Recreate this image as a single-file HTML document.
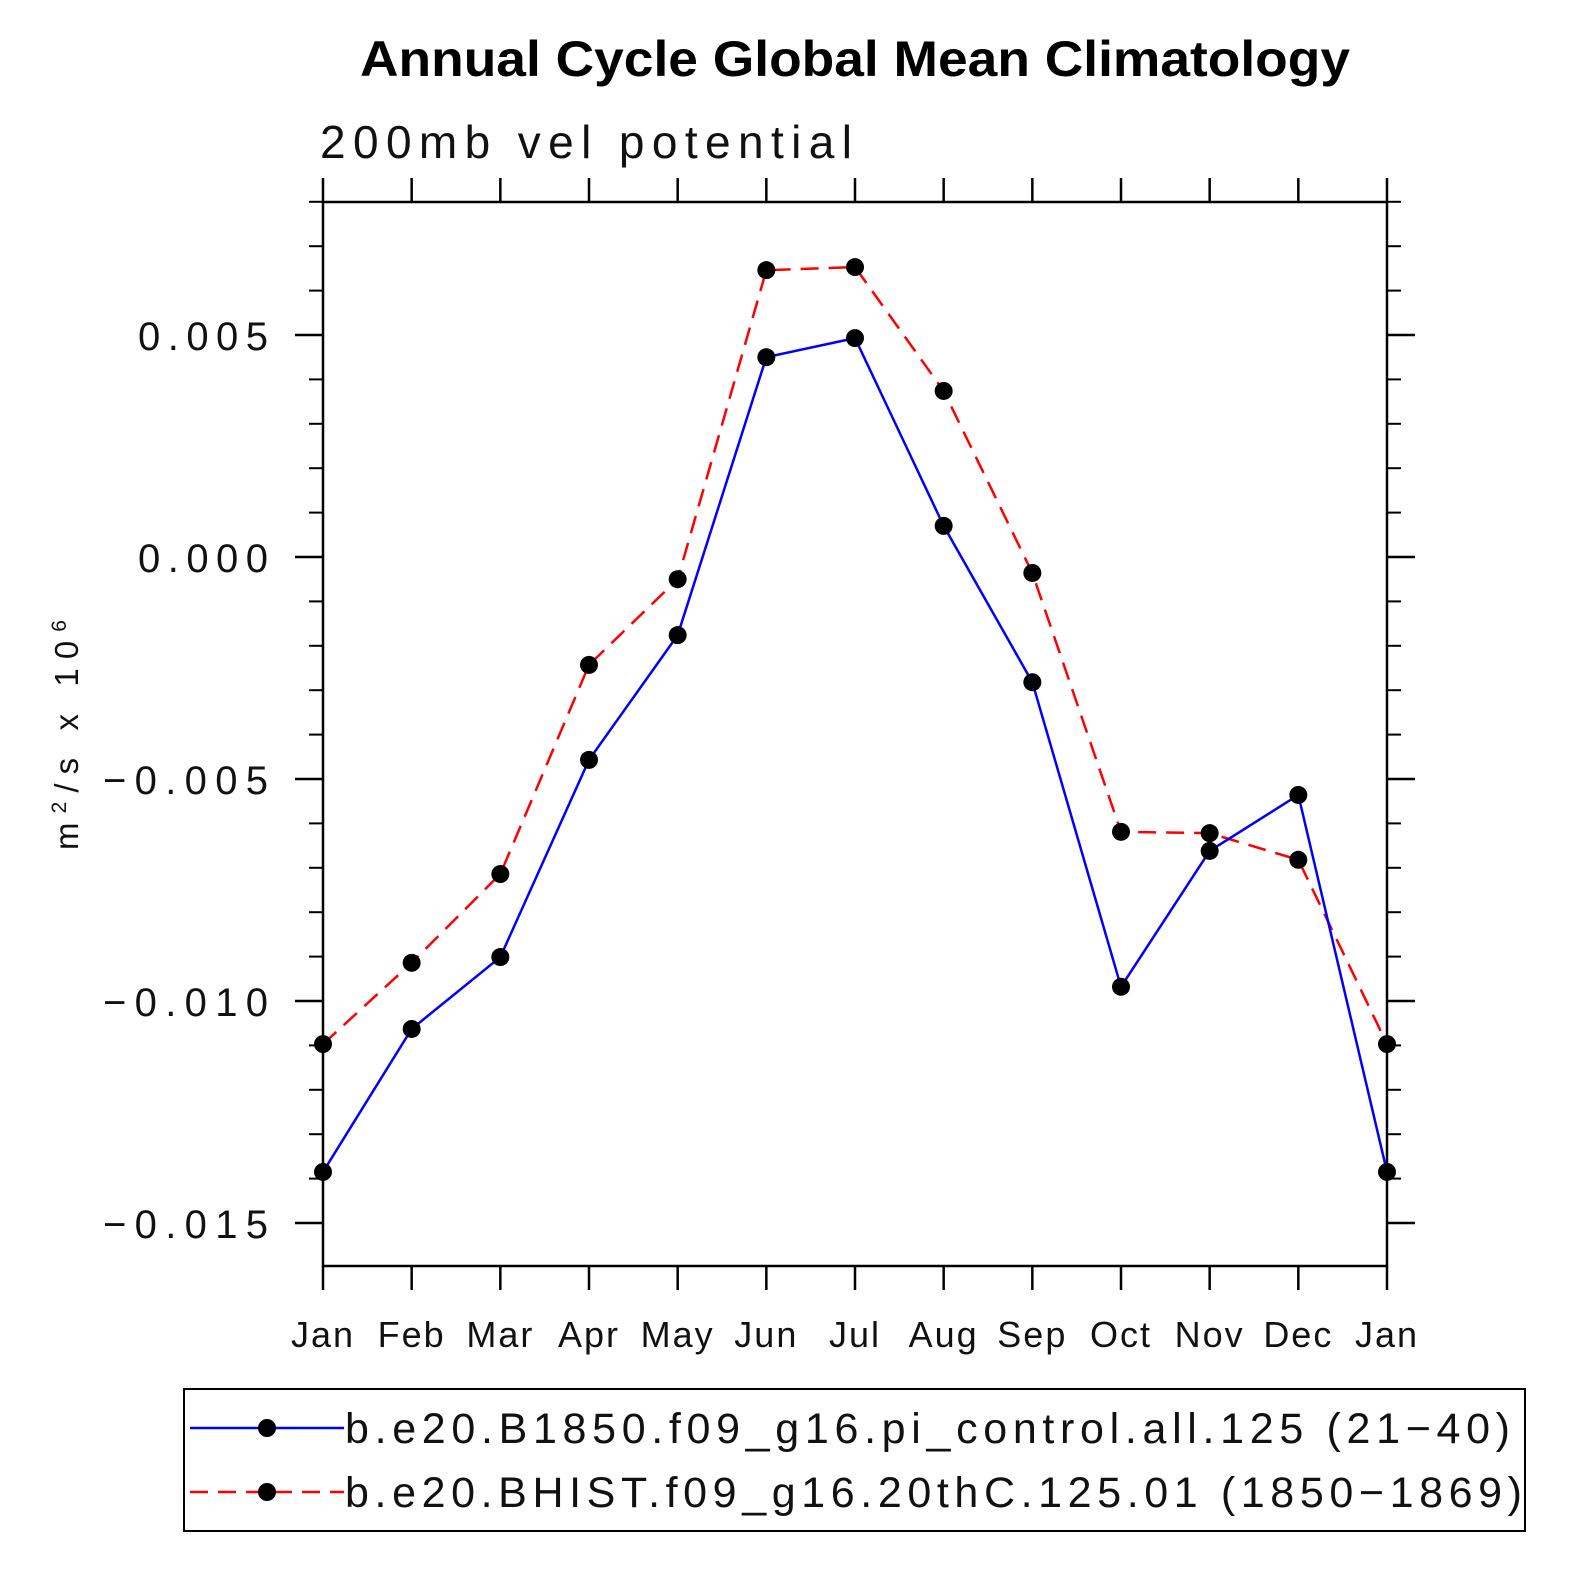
<!DOCTYPE html>
<html><head><meta charset="utf-8"><style>
body{margin:0;background:#fff;}
svg{display:block;font-family:"Liberation Sans",sans-serif;}
</style></head><body>
<svg id="chart" width="1585" height="1585" viewBox="0 0 1585 1585">
<text x="360" y="76" font-size="50" font-weight="bold" textLength="990" lengthAdjust="spacingAndGlyphs">Annual Cycle Global Mean Climatology</text>
<text x="320" y="158" font-size="46" fill="#111" textLength="532" lengthAdjust="spacing">200mb vel potential</text>
<g id="axes"></g>
<g id="series"></g>
<text transform="translate(78,850) rotate(-90)" font-size="33" fill="#111" textLength="230" lengthAdjust="spacing">m<tspan font-size="21" dy="-12">2</tspan><tspan dy="12">/s x 10</tspan><tspan font-size="21" dy="-12">6</tspan></text>
<g>
<rect x="184" y="1389" width="1341" height="142" fill="#fff" stroke="#000" stroke-width="2"/>
<g>
<line x1="190" y1="1428" x2="344" y2="1428" stroke="#0000ff" stroke-width="2.5"/>
<circle cx="267" cy="1428" r="9" fill="#000"/>
<text x="345" y="1443" font-size="43" fill="#111" textLength="1165" lengthAdjust="spacing">b.e20.B1850.f09_g16.pi_control.all.125 (21−40)</text>
</g>
<g>
<line x1="190" y1="1492" x2="344" y2="1492" stroke="#ff0000" stroke-width="2.5" stroke-dasharray="18,10"/>
<circle cx="267" cy="1492" r="9" fill="#000"/>
<text x="345" y="1507" font-size="43" fill="#111" textLength="1177" lengthAdjust="spacing">b.e20.BHIST.f09_g16.20thC.125.01 (1850−1869)</text>
</g>
</g>
</svg>
<script>
const months=["Jan","Feb","Mar","Apr","May","Jun","Jul","Aug","Sep","Oct","Nov","Dec","Jan"];
const controlValues=[-0.01385,-0.01063,-0.00901,-0.00457,-0.00176,0.00450,0.00493,0.00070,-0.00282,-0.00968,-0.00662,-0.00536,-0.01385];
const histValues=[-0.01097,-0.00914,-0.00714,-0.00243,-0.00050,0.00646,0.00653,0.00374,-0.00036,-0.00619,-0.00622,-0.00682,-0.01097];
const yTicks=[0.005,0,-0.005,-0.010,-0.015];
const yTickLabels=["0.005","0.000","−0.005","−0.010","−0.015"];
const L=323,R=1387,T=202,B=1266;
const yMin=-0.015-43/222*0.005,yMax=0.005+133/222*0.005;
const xs=i=>L+(R-L)*i/(months.length-1);
const ys=v=>B-(v-yMin)/(yMax-yMin)*(B-T);
const NS="http://www.w3.org/2000/svg";
function mk(tag,attrs,parent){const e=document.createElementNS(NS,tag);for(const k in attrs)e.setAttribute(k,attrs[k]);parent.appendChild(e);return e;}
const ax=document.getElementById('axes');
const frame=mk('rect',{x:L,y:T,width:R-L,height:B-T,fill:'none',stroke:'#000','stroke-width':2.5},ax);


months.forEach((m,i)=>{const x=xs(i);
mk('line',{x1:x,y1:B,x2:x,y2:B+24,stroke:'#000','stroke-width':2.5},ax);
mk('line',{x1:x,y1:T,x2:x,y2:T-24,stroke:'#000','stroke-width':2.5},ax);
const t=mk('text',{x:x,y:B+81,'text-anchor':'middle','font-size':36,'letter-spacing':2,fill:'#111'},ax);t.textContent=m;

});
for(let v=-0.016;v<=0.008+1e-9;v+=0.001){const y=ys(v);if(y<T-0.5||y>B+0.5)continue;
mk('line',{x1:L-14,y1:y,x2:L,y2:y,stroke:'#000','stroke-width':2},ax);
mk('line',{x1:R,y1:y,x2:R+14,y2:y,stroke:'#000','stroke-width':2},ax);}
yTicks.forEach((v,i)=>{const y=ys(v);
mk('line',{x1:L-28,y1:y,x2:L,y2:y,stroke:'#000','stroke-width':2.5},ax);
mk('line',{x1:R,y1:y,x2:R+28,y2:y,stroke:'#000','stroke-width':2.5},ax);
const lab=yTickLabels[i];const len=lab.length>5?165:130;
const t=mk('text',{x:268-len,y:y+15,'font-size':40,fill:'#111',textLength:len,lengthAdjust:'spacing'},ax);t.textContent=lab;

});
const sg=document.getElementById('series');
function draw(vals,color,dash,name){
const p=mk('polyline',{points:vals.map((v,i)=>xs(i)+','+ys(v)).join(' '),fill:'none',stroke:color,'stroke-width':2.5,'stroke-dasharray':dash},sg);


vals.forEach((v,i)=>{const c=mk('circle',{cx:xs(i),cy:ys(v),r:9,fill:'#000'},sg);

});}
draw(histValues,'#ff0000','18,10','hist');
draw(controlValues,'#0000ff','none','control');
</script>
</body></html>
